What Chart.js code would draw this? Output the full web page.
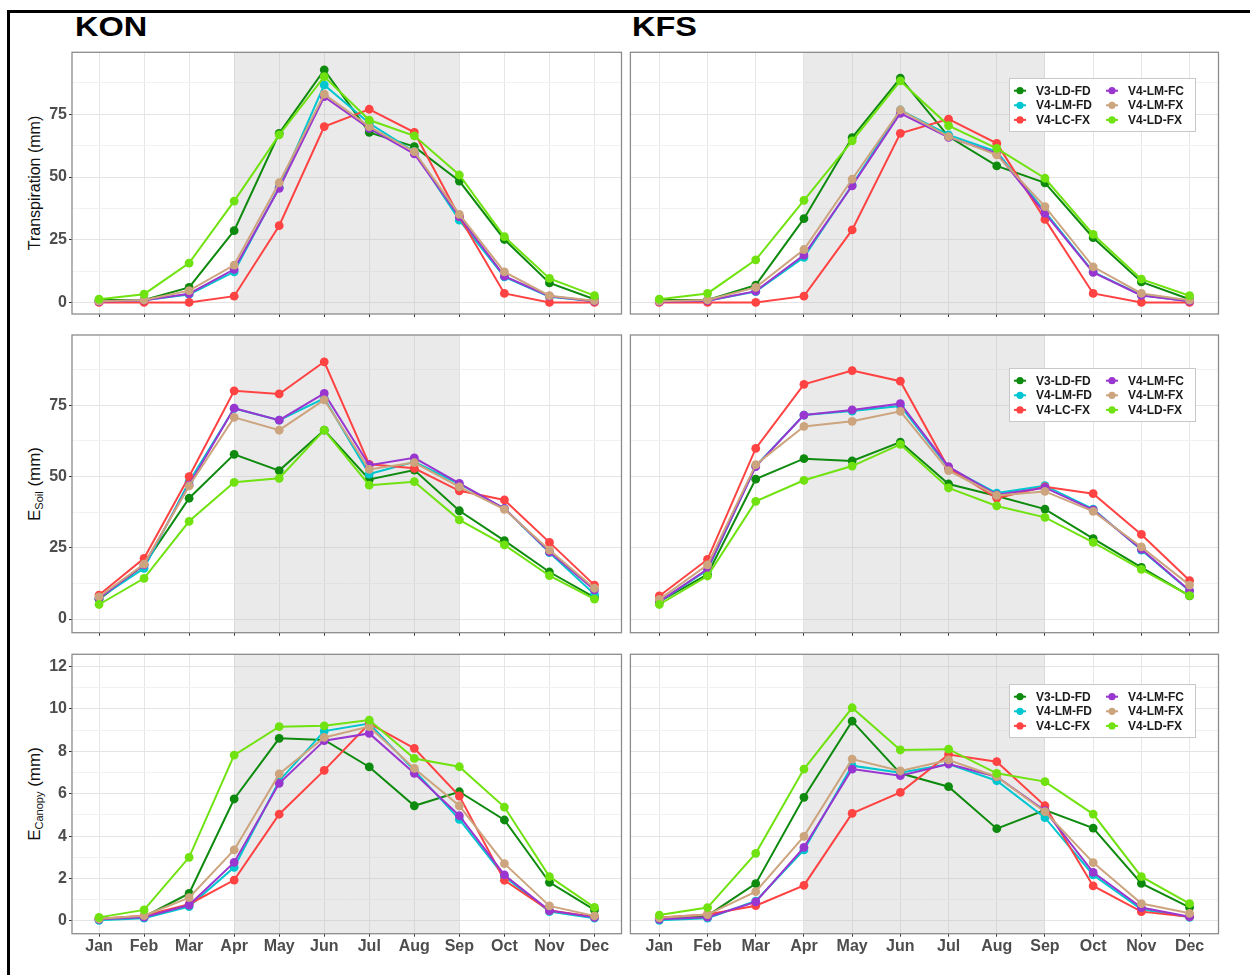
<!DOCTYPE html>
<html>
<head>
<meta charset="utf-8">
<script src="https://cdn.jsdelivr.net/npm/chart.js@4.4.1/dist/chart.umd.min.js"></script>
<style>
  html, body { margin: 0; padding: 0; background: #fff; }
  body { width: 1250px; height: 975px; position: relative; overflow: hidden; font-family: "Liberation Sans", Arial, sans-serif; }
  #frame { position: absolute; left: 7px; top: 10px; width: 1270px; height: 990px; border-left: 3px solid #000; border-top: 3px solid #000; }
  .site { position: absolute; top: 13px; font-size: 28px; line-height: 28px; font-weight: bold; color: #000; transform: scaleX(1.16); transform-origin: left top; }
  .ytitle { position: absolute; white-space: nowrap; transform: translate(-50%, -50%) rotate(-90deg); font-size: 16px; color: #111; }
  .ytitle.big { font-size: 17px; }
  .ytitle sub { font-size: 11px; vertical-align: -3px; }
  canvas { position: absolute; }
</style>
</head>
<body>
<div id="frame"></div>
<div class="site" style="left:75px">KON</div>
<div class="site" style="left:632px">KFS</div>
<div class="ytitle" style="left:35px; top:183px">Transpiration (mm)</div>
<div class="ytitle big" style="left:35px; top:484px">E<sub>Soil</sub> (mm)</div>
<div class="ytitle big" style="left:35px; top:794px">E<sub>Canopy</sub> (mm)</div>

<canvas id="c11" width="626" height="290" style="left:0px; top:30px"></canvas>
<canvas id="c12" width="624" height="290" style="left:626px; top:30px"></canvas>
<canvas id="c21" width="626" height="322" style="left:0px; top:320px"></canvas>
<canvas id="c22" width="624" height="322" style="left:626px; top:320px"></canvas>
<canvas id="c31" width="626" height="333" style="left:0px; top:642px"></canvas>
<canvas id="c32" width="624" height="333" style="left:626px; top:642px"></canvas>

<script>
const months = ['Jan', 'Feb', 'Mar', 'Apr', 'May', 'Jun', 'Jul', 'Aug', 'Sep', 'Oct', 'Nov', 'Dec'];
const monthPos = [1, 2, 3, 4, 5, 6, 7, 8, 9, 10, 11, 12];
const season = ['Apr', 'Sep'];
const seriesNames = ['V3-LD-FD', 'V4-LM-FD', 'V4-LC-FX', 'V4-LM-FC', 'V4-LM-FX', 'V4-LD-FX'];
const seriesColors = ['#0E8A0E', '#00C6D0', '#FF4242', '#9A36D0', '#CCA47E', '#6FE210'];

// y ticks (labelled) and minor grid lines
const transpTicks = [0, 25, 50, 75];
const transpMinor = [12.5, 37.5, 62.5, 87.5];
const soilTicks = [0, 25, 50, 75];
const soilMinor = [12.5, 37.5, 62.5, 87.5];
const canopyTicks = [0, 2, 4, 6, 8, 10, 12];
const canopyMinor = [1, 3, 5, 7, 9, 11];

// rows follow seriesNames order
const konTransp = [
  [1.0, 1.0, 6.0, 28.6, 67.4, 92.7, 67.8, 62.1, 48.4, 25.1, 7.8, 1.3],
  [0.3, 0.9, 3.2, 12.2, 45.9, 86.7, 71.4, 60.1, 32.8, 10.2, 2.3, 0.5],
  [0.0, 0.0, 0.0, 2.5, 30.6, 70.1, 77.0, 67.8, 34.2, 3.6, 0.0, 0.0],
  [0.3, 0.9, 3.5, 13.2, 45.5, 82.0, 69.4, 59.2, 34.2, 10.5, 2.5, 0.5],
  [0.5, 1.0, 4.7, 14.9, 47.7, 83.0, 70.1, 60.1, 35.1, 12.2, 2.7, 0.7],
  [1.3, 3.3, 15.7, 40.4, 66.8, 90.0, 72.7, 66.4, 50.8, 26.2, 9.6, 2.7]
];
const kfsTransp = [
  [1.0, 1.0, 6.9, 33.4, 65.7, 89.4, 66.1, 54.4, 47.7, 25.8, 8.2, 1.3],
  [0.3, 0.7, 4.3, 18.0, 46.8, 76.7, 66.8, 60.1, 36.2, 12.2, 2.9, 0.5],
  [0.0, 0.0, 0.0, 2.5, 28.9, 67.4, 73.1, 63.4, 33.1, 3.6, 0.0, 0.0],
  [0.3, 0.7, 4.5, 18.9, 46.5, 75.4, 65.8, 59.4, 35.5, 12.0, 2.8, 0.5],
  [0.5, 1.0, 6.0, 21.1, 49.1, 76.7, 66.1, 58.8, 38.2, 14.2, 3.6, 0.9],
  [1.3, 3.6, 17.0, 40.7, 64.4, 88.3, 70.5, 61.4, 49.5, 27.1, 9.3, 2.7]
];
const konSoil = [
  [6.9, 19.0, 42.4, 57.8, 52.1, 66.3, 49.0, 52.3, 38.0, 27.5, 16.5, 7.6],
  [7.3, 17.8, 48.2, 73.9, 69.8, 77.5, 50.9, 55.2, 47.4, 38.8, 23.3, 8.7],
  [8.4, 21.3, 50.0, 80.1, 79.0, 90.3, 54.3, 52.9, 45.0, 41.8, 26.9, 11.9],
  [7.3, 19.0, 47.0, 74.0, 69.8, 79.2, 54.0, 56.6, 47.6, 38.8, 23.6, 10.2],
  [7.8, 19.3, 46.7, 70.8, 66.3, 76.9, 52.5, 54.9, 46.4, 38.5, 24.2, 10.8],
  [5.1, 14.3, 34.3, 48.0, 49.4, 66.3, 47.0, 48.2, 34.8, 26.0, 15.2, 7.0]
];
const kfsSoil = [
  [6.1, 15.7, 49.1, 56.3, 55.5, 62.1, 47.4, 43.2, 38.6, 28.2, 18.1, 8.1],
  [6.1, 17.2, 53.7, 71.6, 73.0, 74.8, 53.1, 44.2, 46.8, 38.6, 24.2, 9.8],
  [8.1, 20.9, 59.9, 82.4, 87.2, 83.5, 52.9, 42.4, 46.4, 44.0, 29.7, 13.5],
  [6.1, 17.5, 53.5, 71.6, 73.4, 75.6, 53.5, 43.6, 46.1, 38.3, 24.5, 10.0],
  [6.9, 19.0, 54.2, 67.6, 69.4, 72.9, 52.1, 43.4, 44.8, 37.8, 25.3, 11.9],
  [5.1, 15.1, 41.3, 48.7, 53.7, 61.3, 46.0, 39.7, 35.7, 26.9, 17.4, 8.2]
];
const konCanopy = [
  [0.10, 0.20, 1.30, 5.75, 8.61, 8.53, 7.26, 5.43, 6.09, 4.76, 1.82, 0.52],
  [0.03, 0.13, 0.68, 2.53, 6.60, 8.95, 9.31, 7.10, 4.79, 2.09, 0.44, 0.13],
  [0.10, 0.25, 0.79, 1.93, 5.03, 7.10, 9.31, 8.14, 5.89, 1.92, 0.49, 0.20],
  [0.08, 0.18, 0.75, 2.76, 6.49, 8.50, 8.84, 6.96, 4.96, 2.17, 0.49, 0.17],
  [0.10, 0.25, 1.10, 3.35, 6.93, 8.65, 9.16, 7.19, 5.43, 2.70, 0.71, 0.24],
  [0.17, 0.52, 3.00, 7.82, 9.16, 9.20, 9.47, 7.66, 7.27, 5.37, 2.09, 0.64]
];
const kfsCanopy = [
  [0.13, 0.25, 1.76, 5.83, 9.42, 6.96, 6.33, 4.35, 5.23, 4.38, 1.77, 0.64],
  [0.03, 0.13, 0.94, 3.35, 7.32, 6.99, 7.40, 6.61, 4.87, 2.17, 0.55, 0.17],
  [0.16, 0.31, 0.72, 1.68, 5.07, 6.06, 7.85, 7.51, 5.43, 1.65, 0.44, 0.20],
  [0.08, 0.18, 0.90, 3.47, 7.16, 6.85, 7.40, 6.80, 5.20, 2.29, 0.63, 0.20],
  [0.15, 0.30, 1.38, 3.99, 7.63, 7.07, 7.59, 6.80, 5.15, 2.75, 0.82, 0.36],
  [0.28, 0.63, 3.19, 7.16, 10.05, 8.06, 8.10, 6.96, 6.57, 5.04, 2.09, 0.82]
];

const tickFont = { family: '"Liberation Sans", Arial, sans-serif', size: 16, weight: 'bold' };
const tickColor = '#4D4D4D';

// keep axis label overhang from moving the panel edges
const noOverhang = s => { s.paddingTop = 0; s.paddingBottom = 0; s.paddingLeft = 0; s.paddingRight = 0; };

// shading of the growing season, panel border, legend box
const panelPlugin = {
  id: 'panel',
  beforeDatasetsDraw(chart, args, o) {
    const { ctx, chartArea: a, scales: { x } } = chart;
    const x0 = x.getPixelForValue(months.indexOf(season[0]) + 1);
    const x1 = x.getPixelForValue(months.indexOf(season[1]) + 1);
    ctx.save();
    ctx.fillStyle = 'rgba(185,185,185,0.3)';
    ctx.fillRect(x0, a.top, x1 - x0, a.bottom - a.top);
    ctx.restore();
  },
  afterDraw(chart, args, o) {
    const { ctx, chartArea: a } = chart;
    ctx.save();
    ctx.strokeStyle = '#8C8C8C';
    ctx.lineWidth = 1.3;
    ctx.strokeRect(a.left, a.top, a.right - a.left, a.bottom - a.top);
    if (o.legend) {
      const w = 186, h = 53;
      const bx = Math.round(a.left + 0.802 * (a.right - a.left) - w / 2);
      const by = Math.round(a.top + 0.2 * (a.bottom - a.top) - h / 2);
      ctx.fillStyle = '#fff';
      ctx.fillRect(bx, by, w, h);
      ctx.strokeStyle = '#C8C8C8';
      ctx.lineWidth = 1;
      ctx.strokeRect(bx + 0.5, by + 0.5, w, h);
      ctx.font = 'bold 12px "Liberation Sans", Arial, sans-serif';
      ctx.textBaseline = 'middle';
      chart.data.datasets.forEach((ds, i) => {
        const sx = bx + 11 + Math.floor(i / 3) * 92;
        const sy = by + 12.7 + (i % 3) * 14.6;
        ctx.strokeStyle = ds.borderColor;
        ctx.lineWidth = 2;
        ctx.beginPath(); ctx.moveTo(sx - 6, sy); ctx.lineTo(sx + 6, sy); ctx.stroke();
        ctx.fillStyle = ds.borderColor;
        ctx.beginPath(); ctx.arc(sx, sy, 3.6, 0, Math.PI * 2); ctx.fill();
        ctx.fillStyle = '#1A1A1A';
        ctx.fillText(ds.label, sx + 16, sy + 0.5);
      });
    }
    ctx.restore();
  }
};

const makePanel = (id, values, p) => {
  const allTicks = p.major.concat(p.minor);
  const isMajor = v => p.major.includes(v);
  return new Chart(document.getElementById(id), {
    type: 'line',
    data: {
      datasets: values.map((vals, i) => ({
        label: seriesNames[i],
        data: vals.map((v, j) => ({ x: monthPos[j], y: v })),
        borderColor: seriesColors[i],
        backgroundColor: seriesColors[i],
        borderWidth: 2,
        pointRadius: 4.4,
        pointBorderWidth: 0,
        tension: 0,
        order: seriesNames.length - i
      }))
    },
    options: {
      responsive: false,
      animation: false,
      layout: { padding: { top: p.padTop, right: p.padRight, left: 0, bottom: 0 } },
      plugins: { legend: { display: false }, tooltip: { enabled: false }, panel: { legend: p.legend } },
      scales: {
        x: {
          type: 'linear', min: 0.4, max: 12.6,
          afterBuildTicks: s => { s.ticks = monthPos.map(v => ({ value: v })); },
          afterFit: s => { s.height = p.xHeight; noOverhang(s); },
          border: { display: false },
          grid: { color: '#E6E6E6', lineWidth: 1, tickLength: 3, tickColor: '#333' },
          ticks: {
            display: p.months, padding: 0, autoSkip: false, maxRotation: 0,
            font: tickFont, color: tickColor,
            callback: v => months[v - 1]
          }
        },
        y: {
          type: 'linear', min: p.min, max: p.max,
          afterBuildTicks: s => { s.ticks = allTicks.map(v => ({ value: v })); },
          afterFit: s => { s.width = p.yWidth; noOverhang(s); },
          border: { display: false },
          grid: {
            color: c => (c.tick && isMajor(c.tick.value)) ? '#E4E4E4' : '#F2F2F2',
            lineWidth: 1,
            tickLength: p.yLabels ? 3 : 0,
            tickColor: c => (c.tick && isMajor(c.tick.value)) ? '#333' : 'rgba(0,0,0,0)'
          },
          ticks: {
            display: p.yLabels, padding: 2, font: tickFont, color: tickColor,
            callback: v => isMajor(v) ? String(v) : ''
          }
        }
      }
    },
    plugins: [panelPlugin]
  });
};

const leftCol = { yWidth: 72, padRight: 4.5, yLabels: true, legend: false };
const rightCol = { yWidth: 4, padRight: 31.5, yLabels: false, legend: true };
const row1 = { padTop: 22.3, xHeight: 6, months: false, min: -4.6, max: 99.7, major: transpTicks, minor: transpMinor };
const row2 = { padTop: 15, xHeight: 9.3, months: false, min: -4.8, max: 99.7, major: soilTicks, minor: soilMinor };
const row3 = { padTop: 12.3, xHeight: 41.3, months: true, min: -0.6, max: 12.57, major: canopyTicks, minor: canopyMinor };

makePanel('c11', konTransp, { ...row1, ...leftCol });
makePanel('c12', kfsTransp, { ...row1, ...rightCol });
makePanel('c21', konSoil, { ...row2, ...leftCol });
makePanel('c22', kfsSoil, { ...row2, ...rightCol });
makePanel('c31', konCanopy, { ...row3, ...leftCol });
makePanel('c32', kfsCanopy, { ...row3, ...rightCol });
</script>
</body>
</html>
